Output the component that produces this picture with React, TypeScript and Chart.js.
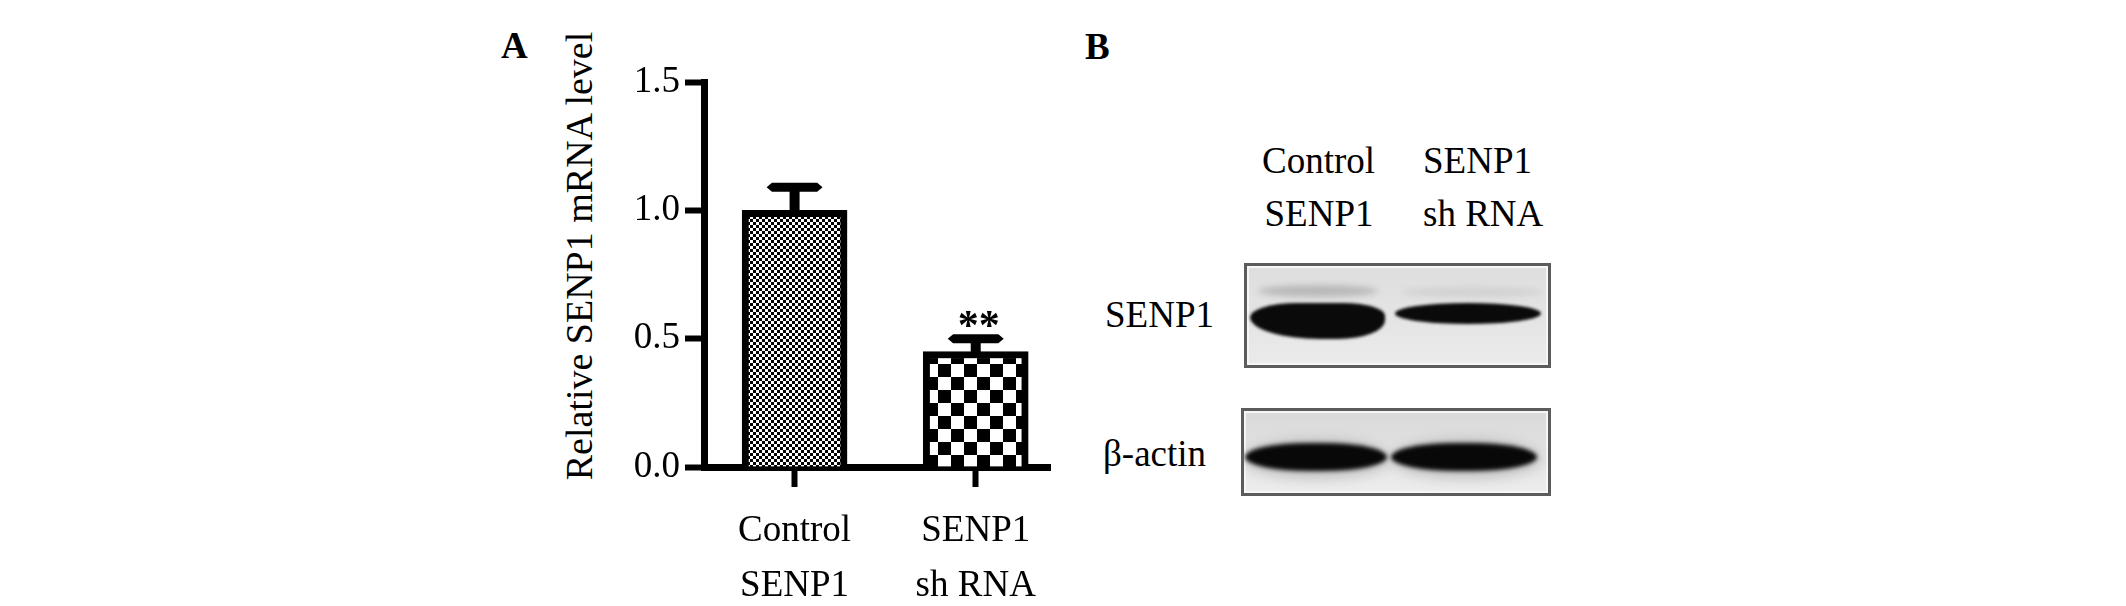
import React, { useEffect, useRef } from "react";
import { Chart, registerables } from "chart.js";

Chart.register(...registerables);

// ---------- data ----------
const CATEGORIES: string[][] = [
  ["Control", "SENP1"],
  ["SENP1", "sh RNA"],
];
const MEANS: number[] = [1.0, 0.45];
const ERRORS: number[] = [0.09, 0.05];
const SIGNIFICANCE: string[] = ["", "**"];
const Y_TICKS: number[] = [0, 0.5, 1.0, 1.5];
const Y_TICK_LABELS: string[] = ["0.0", "0.5", "1.0", "1.5"];
const Y_TITLE = "Relative SENP1 mRNA level";
const PANEL_LABELS: string[] = ["A", "B"];
const LANE_LABELS: string[][] = [
  ["Control", "SENP1"],
  ["SENP1", "sh RNA"],
];
const ROW_LABELS: string[] = ["SENP1", "β-actin"];

const SERIF = "'Liberation Serif', 'Times New Roman', Times, serif";

function makeChecker(cell: number, fg: string, bg: string): CanvasPattern | string {
  const c = document.createElement("canvas");
  c.width = cell * 2;
  c.height = cell * 2;
  const g = c.getContext("2d");
  if (!g) return fg;
  g.fillStyle = bg;
  g.fillRect(0, 0, cell * 2, cell * 2);
  g.fillStyle = fg;
  g.fillRect(0, 0, cell, cell);
  g.fillRect(cell, cell, cell, cell);
  return g.createPattern(c, "repeat") || fg;
}

const errorBarPlugin = {
  id: "errorBarsAndStars",
  afterDatasetsDraw(chart: any) {
    const { ctx } = chart;
    const y = chart.scales.y;
    const meta = chart.getDatasetMeta(0);
    ctx.save();
    ctx.fillStyle = "#000";
    MEANS.forEach((m, i) => {
      const el = meta.data[i];
      if (!el) return;
      const cx = el.x;
      const yMean = y.getPixelForValue(m);
      const yTop = y.getPixelForValue(m + ERRORS[i]);
      const stemW = 10;
      const capW = 56;
      const capH = 9;
      ctx.fillRect(cx - stemW / 2, yTop, stemW, yMean - yTop + 2);
      ctx.beginPath();
      ctx.moveTo(cx - capW / 2, yTop);
      ctx.lineTo(cx - capW / 2 + capH * 0.6, yTop - capH / 2);
      ctx.lineTo(cx + capW / 2 - capH * 0.6, yTop - capH / 2);
      ctx.lineTo(cx + capW / 2, yTop);
      ctx.lineTo(cx + capW / 2 - capH * 0.6, yTop + capH / 2);
      ctx.lineTo(cx - capW / 2 + capH * 0.6, yTop + capH / 2);
      ctx.closePath();
      ctx.fill();
      if (SIGNIFICANCE[i]) {
        ctx.font = `bold 42px ${SERIF}`;
        ctx.textAlign = "center";
        ctx.textBaseline = "alphabetic";
        ctx.fillText(SIGNIFICANCE[i], cx + 3, yTop);
      }
    });
    ctx.restore();
  },
};

function Txt(props: {
  x: number;
  baseline: number;
  text: string;
  size?: number;
  bold?: boolean;
  align?: "left" | "center";
}) {
  const size = props.size ?? 37;
  const top = props.baseline - size * 0.8375;
  const centered = props.align === "center";
  return (
    <div
      style={{
        position: "absolute",
        left: centered ? props.x - 200 : props.x,
        width: centered ? 400 : undefined,
        textAlign: centered ? "center" : "left",
        top,
        fontSize: size,
        lineHeight: `${size}px`,
        fontWeight: props.bold ? "bold" : "normal",
        whiteSpace: "nowrap",
        fontFamily: SERIF,
        color: "#000",
      }}
    >
      {props.text}
    </div>
  );
}

const boxStyle = (left: number, top: number, w: number, h: number, bg: string): React.CSSProperties => ({
  position: "absolute",
  left,
  top,
  width: w,
  height: h,
  boxSizing: "border-box",
  border: "3px solid #5c5c5c",
  boxShadow: "inset 0 0 0 2px #f6f6f6",
  background: bg,
  overflow: "hidden",
});

const bandStyle = (
  left: number,
  top: number,
  w: number,
  h: number,
  color: string,
  blur: number,
  radius: string
): React.CSSProperties => ({
  position: "absolute",
  left,
  top,
  width: w,
  height: h,
  background: color,
  borderRadius: radius,
  filter: `blur(${blur}px)`,
});

export default function App() {
  const canvasRef = useRef<HTMLCanvasElement | null>(null);

  useEffect(() => {
    const canvas = canvasRef.current;
    if (!canvas) return;
    const fine = makeChecker(3, "#ffffff", "#000000");
    const coarse = makeChecker(13, "#000000", "#ffffff");
    const chart = new Chart(canvas, {
      type: "bar",
      data: {
        datasets: [
          {
            data: MEANS.map((m, i) => ({ x: i, y: m })) as any,
            backgroundColor: [fine, coarse] as any,
            borderColor: "#000",
            borderWidth: 7,
            barThickness: 105,
          },
        ],
      },
      options: {
        animation: false,
        responsive: false,
        layout: { padding: { top: 82, right: 30, left: 0, bottom: 0 } },
        plugins: { legend: { display: false }, tooltip: { enabled: false } },
        scales: {
          x: {
            type: "linear",
            min: -0.5,
            max: 1.41,
            offset: false,
            afterBuildTicks: (s: any) => {
              s.ticks = CATEGORIES.map((_, i) => ({ value: i }));
            },
            afterFit: (s: any) => {
              s.height = 139;
            },
            grid: {
              offset: false,
              drawOnChartArea: false,
              drawTicks: true,
              tickLength: 20,
              tickWidth: 6,
              tickColor: "#000",
            },
            border: { display: true, color: "#000", width: 7 },
            ticks: {
              callback: (v: any) => CATEGORIES[Math.round(Number(v))] as any,
              font: { family: SERIF, size: 37, lineHeight: 55 / 37 },
              color: "#000",
              padding: 17,
              maxRotation: 0,
              autoSkip: false,
            },
          },
          y: {
            type: "linear",
            min: 0,
            max: 1.5,
            afterBuildTicks: (s: any) => {
              s.ticks = Y_TICKS.map((v) => ({ value: v }));
            },
            afterFit: (s: any) => {
              s.width = 104;
            },
            grid: {
              drawOnChartArea: false,
              drawTicks: true,
              tickLength: 19,
              tickWidth: 6,
              tickColor: "#000",
            },
            border: { display: true, color: "#000", width: 7 },
            ticks: {
              callback: (_v: any, i: number) => Y_TICK_LABELS[i],
              font: { family: SERIF, size: 37 },
              color: "#000",
              padding: 5,
            },
          },
        },
      },
      plugins: [errorBarPlugin],
    } as any);
    return () => chart.destroy();
  }, []);

  return (
    <div
      style={{
        position: "absolute",
        left: 0,
        top: 0,
        width: 2126,
        height: 606,
        background: "#fff",
        overflow: "hidden",
      }}
    >
      {/* Panel A */}
      <Txt x={501} baseline={57.5} text={PANEL_LABELS[0]} bold />
      <div
        style={{
          position: "absolute",
          left: 579.2 - 300,
          top: 256 - 19,
          width: 600,
          height: 38,
          lineHeight: "38px",
          fontSize: 38,
          fontFamily: SERIF,
          textAlign: "center",
          whiteSpace: "nowrap",
          transform: "rotate(-90deg)",
          color: "#000",
        }}
      >
        {Y_TITLE}
      </div>
      <canvas
        ref={canvasRef}
        width={480}
        height={606}
        style={{ position: "absolute", left: 600, top: 0, width: 480, height: 606 }}
      />

      {/* Panel B */}
      <Txt x={1085} baseline={58.5} text={PANEL_LABELS[1]} bold />
      <Txt x={1318.5} baseline={172.7} text={LANE_LABELS[0][0]} align="center" />
      <Txt x={1319} baseline={226} text={LANE_LABELS[0][1]} align="center" />
      <Txt x={1423} baseline={172.7} text={LANE_LABELS[1][0]} />
      <Txt x={1423} baseline={226} text={LANE_LABELS[1][1]} />
      <Txt x={1105} baseline={326.7} text={ROW_LABELS[0]} />
      <Txt x={1103} baseline={466} text={ROW_LABELS[1]} />

      <div style={boxStyle(1244, 263, 307, 105, "linear-gradient(to bottom, #dedede 0%, #e4e4e4 50%, #ebebeb 100%)")}>
        <div style={bandStyle(11, 19, 120, 12, "rgba(110,110,110,0.35)", 3, "50%")} />
        <div style={bandStyle(155, 21, 140, 10, "rgba(140,140,140,0.18)", 3, "50%")} />
        <div style={bandStyle(3, 37, 135, 36, "#0a0a0a", 1.5, "40% 35% 40% 60% / 45% 40% 60% 70%")} />
        <div style={bandStyle(148, 37, 146, 21, "#0a0a0a", 1.5, "50% / 50%")} />
      </div>

      <div style={boxStyle(1241, 408, 310, 88, "linear-gradient(to bottom, #dadada 0%, #dedede 30%, #e8e8e8 75%, #ededed 100%)")}>
        <div style={bandStyle(0, 28, 145, 40, "rgba(90,90,90,0.25)", 6, "50%")} />
        <div style={bandStyle(147, 28, 150, 40, "rgba(90,90,90,0.25)", 6, "50%")} />
        <div style={bandStyle(1, 32, 142, 28, "#080808", 2, "45% / 50%")} />
        <div style={bandStyle(147, 32, 146, 28, "#080808", 2, "45% / 50%")} />
      </div>
    </div>
  );
}
